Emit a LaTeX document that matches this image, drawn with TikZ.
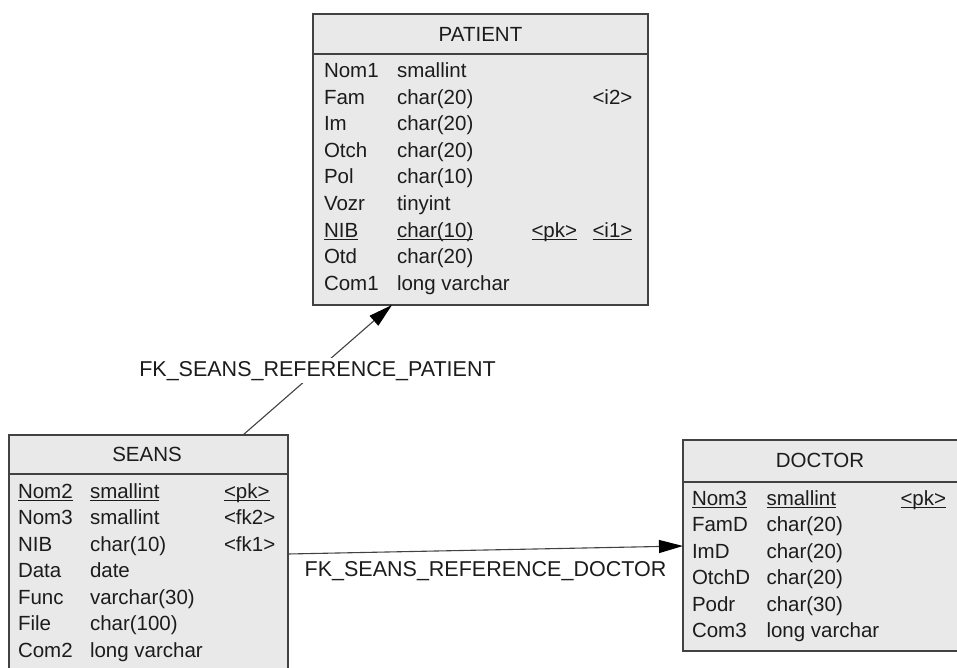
\documentclass[tikz,border=0pt]{standalone}
\usepackage{fontspec}
\setmainfont{Liberation Sans}
\usetikzlibrary{arrows.meta}

\definecolor{boxfill}{RGB}{233,233,233}
\definecolor{boxline}{RGB}{66,66,66}
\definecolor{inkgray}{RGB}{28,28,28}

% underline at a fixed depth, so keys with and without descenders line up
\newcommand\keyline[1]{\setbox0\hbox{#1}\rlap{\copy0}\rule[-3.4pt]{\wd0}{1.2pt}}

\begin{document}
\begin{tikzpicture}[x=1pt,y=-1pt,
  font=\fontsize{20.5}{24}\selectfont, text=inkgray,
  table/.style={draw=boxline, fill=boxfill, line width=1.4pt, inner sep=0pt, outer sep=0pt, rectangle},
  rule/.style={draw=boxline, line width=1.4pt},
  cell/.style={anchor=base west, inner sep=0pt, outer sep=0pt},
  head/.style={anchor=base, inner sep=0pt},
  fk/.style={draw=boxline, line width=1.1pt, -{Triangle[length=24pt,width=13pt,color=black]}},
  fklabel/.style={anchor=base, inner sep=3pt, font=\fontsize{21.5}{26}\selectfont}]

\useasboundingbox (0,0) rectangle (957,668);
\clip (0,0) rectangle (957,668);

% ---------- PATIENT ----------
\node[table, minimum width=335pt, minimum height=291pt] (patient) at (480.5,159.5) {};
\draw[rule] (313,54) -- (648,54);
\node[head] (patient-title) at (480.5,41.5) {PATIENT};
\foreach \a/\b/\c/\d [count=\i from 0] in {
  Nom1/smallint//,
  Fam/char(20)//<i2>,
  Im/char(20)//,
  Otch/char(20)//,
  Pol/char(10)//,
  Vozr/tinyint//,
  {\keyline{NIB}}/{\keyline{char(10)}}/{\keyline{<pk>}}/{\keyline{<i1>}},
  Otd/char(20)//,
  Com1/long varchar//}{
  \node[cell] (p-a\i) at (324,{78+26.5*\i}) {\a};
  \node[cell] (p-b\i) at (397,{78+26.5*\i}) {\b};
  \node[cell] (p-c\i) at (531.5,{78+26.5*\i}) {\c};
  \node[cell] (p-d\i) at (592.5,{78+26.5*\i}) {\d};
}

% ---------- SEANS ----------
\node[table, minimum width=279pt, minimum height=265pt] (seans) at (148.5,567.5) {};
\draw[rule] (9,474) -- (288,474);
\node[head] (seans-title) at (147,461.7) {SEANS};
\foreach \a/\b/\c [count=\i from 0] in {
  {\keyline{Nom2}}/{\keyline{smallint}}/{\keyline{<pk>}},
  Nom3/smallint/<fk2>,
  NIB/char(10)/<fk1>,
  Data/date/,
  Func/varchar(30)/,
  File/char(100)/,
  Com2/long varchar/}{
  \node[cell] (s-a\i) at (18,{498+26.5*\i}) {\a};
  \node[cell] (s-b\i) at (90,{498+26.5*\i}) {\b};
  \node[cell] (s-c\i) at (224,{498+26.5*\i}) {\c};
}

% ---------- DOCTOR ----------
\node[table, minimum width=279pt, minimum height=211pt] (doctor) at (822.5,545.5) {};
\draw[rule] (683,482) -- (962,482);
\node[head] (doctor-title) at (820,467) {DOCTOR};
\foreach \a/\b/\c [count=\i from 0] in {
  {\keyline{Nom3}}/{\keyline{smallint}}/{\keyline{<pk>}},
  FamD/char(20)/,
  ImD/char(20)/,
  OtchD/char(20)/,
  Podr/char(30)/,
  Com3/long varchar/}{
  \node[cell] (d-a\i) at (692,{505+26.5*\i}) {\a};
  \node[cell] (d-b\i) at (766.5,{505+26.5*\i}) {\b};
  \node[cell] (d-c\i) at (900.5,{505+26.5*\i}) {\c};
}

% ---------- references ----------
\draw[fk] ([xshift=234pt]seans.north west) -- ([xshift=79pt]patient.south west)
  node[fklabel, midway, fill=white, yshift=-6pt] (fk-patient) {FK\_SEANS\_REFERENCE\_PATIENT};
\draw[fk] ([yshift=-119pt]seans.north east) -- ([yshift=-106pt]doctor.north west)
  node[fklabel, midway, inner sep=0pt, yshift=-26pt] (fk-doctor) {FK\_SEANS\_REFERENCE\_DOCTOR};

\end{tikzpicture}
\end{document}
